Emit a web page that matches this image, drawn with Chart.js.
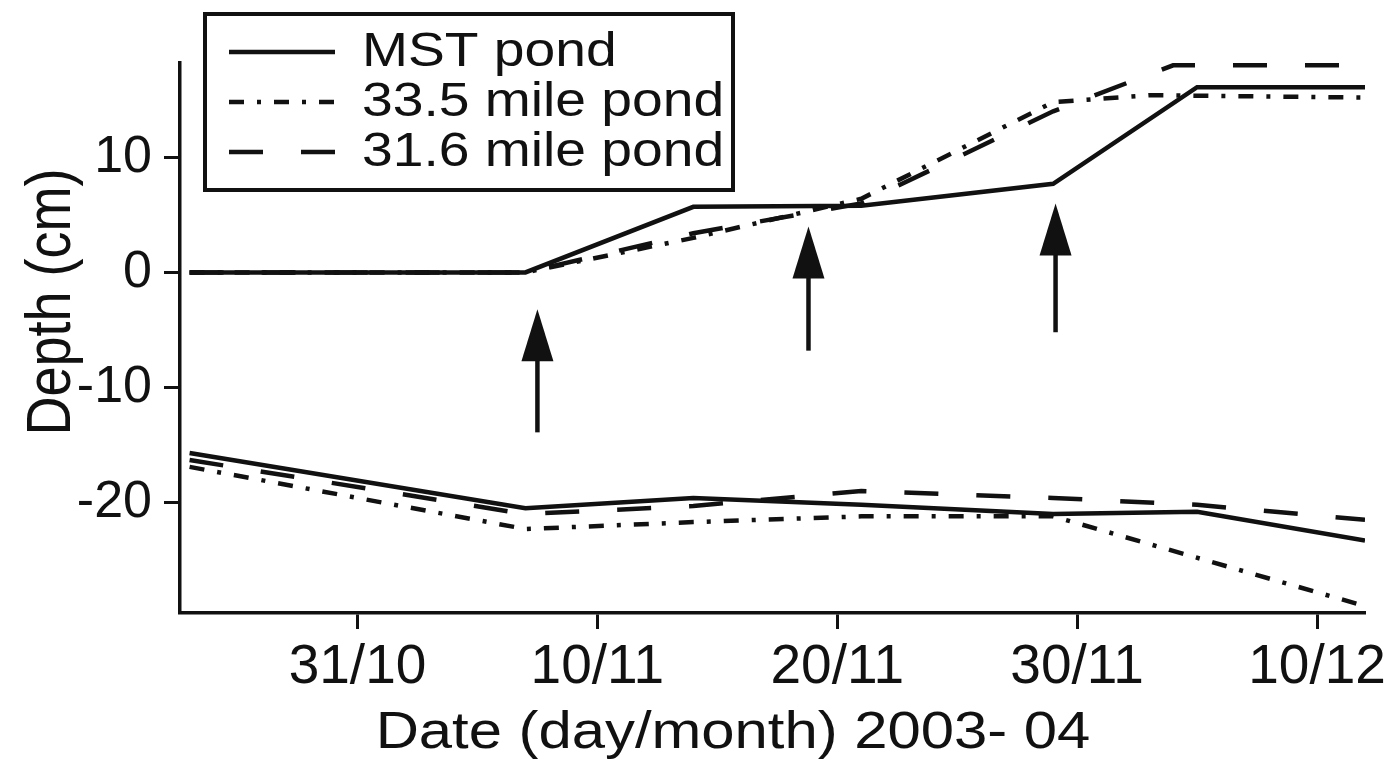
<!DOCTYPE html>
<html>
<head>
<meta charset="utf-8">
<title>Pond depth 2003-04</title>
<script src="https://cdn.jsdelivr.net/npm/chart.js@4.4.1/dist/chart.umd.min.js"></script>
<style>
  html, body { margin: 0; padding: 0; background: #fff; }
  #wrap { width: 1400px; height: 764px; position: relative; }
</style>
</head>
<body>
<div id="wrap"><canvas id="depth"></canvas></div>
<script>
// x values are days counted from 31/10/2003
var tickDays = [0, 10, 20, 30, 40];
var tickLabels = ['31/10', '10/11', '20/11', '30/11', '10/12'];
var depthTicks = [-20, -10, 0, 10];
var pondNames = ['MST pond', '33.5 mile pond', '31.6 mile pond'];

// pond surface (top) and bottom, cm
var mstDays = [-7, 7, 14, 21, 29, 35, 42];
var mstTop = [0, 0, 5.7, 5.8, 7.7, 16.1, 16.1];
var mstBottom = [-15.7, -20.5, -19.6, -20.2, -21.0, -20.8, -23.3];

var p335TopDays = [-7, 7, 14, 21, 29, 33, 42];
var p335Top = [0, 0, 3.0, 6.4, 14.8, 15.4, 15.2];
var p335BottomDays = [-7, 7, 14, 21, 29, 42];
var p335Bottom = [-16.9, -22.3, -21.7, -21.2, -21.2, -29.0];

var p316TopDays = [-7, 7, 14, 21, 29, 34, 42];
var p316Top = [0, 0, 3.4, 6.0, 14.0, 18.0, 18.0];
var p316BottomDays = [-7, 7, 14, 21, 29, 35, 42];
var p316Bottom = [-16.3, -21.0, -20.3, -19.0, -19.6, -20.2, -21.5];

// the three arrows: day, tail depth, tip depth
var arrowDays = [7.5, 18.8, 29.1];
var arrowFrom = [-13.9, -6.8, -5.2];
var arrowTo = [-3.2, 4.0, 6.0];

var ink = '#111';
var fontFam = '"Liberation Sans", Arial, Helvetica, sans-serif';
Chart.defaults.font.family = fontFam;

function pts(xs, ys) {
  return xs.map(function (x, i) { return { x: x, y: ys[i] }; });
}

var solid = [];
var dashDot = [15, 13, 4, 13];
var dashed = [34, 38];

function line(label, data, dash) {
  return {
    label: label,
    data: data,
    borderColor: ink,
    borderWidth: 4.5,
    borderDash: dash,
    pointRadius: 0,
    fill: false,
    tension: 0
  };
}

// stretched text, the figure is a bit wider than tall
function wideText(ctx, txt, x, y, size, align) {
  ctx.save();
  ctx.font = size + 'px ' + fontFam;
  ctx.fillStyle = ink;
  ctx.textAlign = align;
  ctx.textBaseline = 'alphabetic';
  ctx.translate(x, y);
  ctx.scale(1.15, 1);
  ctx.fillText(txt, 0, 0);
  ctx.restore();
}

var extras = {
  id: 'extras',
  afterDatasetsDraw: function (chart) {
    var ctx = chart.ctx, xs = chart.scales.x, ys = chart.scales.y;
    ctx.save();
    ctx.strokeStyle = ink;
    ctx.fillStyle = ink;
    ctx.lineWidth = 4.5;
    arrowDays.forEach(function (d, i) {
      var x = xs.getPixelForValue(d);
      var y0 = ys.getPixelForValue(arrowFrom[i]);
      var y1 = ys.getPixelForValue(arrowTo[i]);
      ctx.beginPath();
      ctx.moveTo(x, y0);
      ctx.lineTo(x, y1 + 40);
      ctx.stroke();
      ctx.beginPath();
      ctx.moveTo(x, y1);
      ctx.lineTo(x - 16, y1 + 52);
      ctx.lineTo(x + 16, y1 + 52);
      ctx.closePath();
      ctx.fill();
    });
    ctx.restore();
  },
  afterDraw: function (chart) {
    var ctx = chart.ctx;
    // legend box
    ctx.save();
    ctx.fillStyle = '#fff';
    ctx.fillRect(205, 14, 528, 176);
    ctx.strokeStyle = ink;
    ctx.lineWidth = 4;
    ctx.strokeRect(205, 14, 528, 176);
    for (var i = 0; i < 3; i++) {
      var ds = chart.data.datasets[i];
      var yy = 52 + i * 50;
      ctx.beginPath();
      ctx.setLineDash(ds.borderDash);
      ctx.lineWidth = 4.5;
      ctx.moveTo(229, yy);
      ctx.lineTo(335, yy);
      ctx.stroke();
      ctx.setLineDash([]);
      wideText(ctx, pondNames[i], 362, yy + 14, 48, 'left');
    }
    ctx.restore();

    // axis titles
    wideText(ctx, 'Date (day/month) 2003- 04', 733, 748, 52, 'center');
    ctx.save();
    ctx.font = '54px ' + fontFam;
    ctx.fillStyle = ink;
    ctx.textAlign = 'center';
    ctx.textBaseline = 'alphabetic';
    ctx.translate(70, 302);
    ctx.rotate(-Math.PI / 2);
    ctx.scale(1, 1.15);
    ctx.fillText('Depth (cm)', 0, 0);
    ctx.restore();
  }
};

var ctx = document.getElementById('depth').getContext('2d');
var depthChart = new Chart(ctx, {
  type: 'line',
  data: {
    datasets: [
      line(pondNames[0], pts(mstDays, mstTop), solid),
      line(pondNames[1], pts(p335TopDays, p335Top), dashDot),
      line(pondNames[2], pts(p316TopDays, p316Top), dashed),
      line(pondNames[0], pts(mstDays, mstBottom), solid),
      line(pondNames[1], pts(p335BottomDays, p335Bottom), dashDot),
      line(pondNames[2], pts(p316BottomDays, p316Bottom), dashed)
    ]
  },
  options: {
    responsive: true,
    maintainAspectRatio: false,
    animation: false,
    layout: { padding: { top: 63, right: 35, left: 0, bottom: 0 } },
    plugins: { legend: { display: false }, tooltip: { enabled: false } },
    scales: {
      x: {
        type: 'linear',
        min: -7.4,
        max: 42,
        afterBuildTicks: function (axis) {
          axis.ticks = tickDays.map(function (v) { return { value: v }; });
        },
        afterFit: function (axis) { axis.height = 151; },
        border: { display: true, color: ink, width: 3.5 },
        grid: { drawOnChartArea: false, drawTicks: true, tickLength: 16, tickWidth: 3, tickColor: ink },
        ticks: {
          color: ink,
          font: { size: 55 },
          padding: 6,
          maxRotation: 0,
          autoSkip: false,
          callback: function (v) {
            var i = tickDays.indexOf(v);
            return i < 0 ? '' : tickLabels[i];
          }
        }
      },
      y: {
        type: 'linear',
        min: -29.6,
        max: 18.2,
        afterBuildTicks: function (axis) {
          axis.ticks = depthTicks.map(function (v) { return { value: v }; });
        },
        afterFit: function (axis) { axis.width = 180; },
        border: { display: true, color: ink, width: 3.5 },
        grid: { drawOnChartArea: false, drawTicks: true, tickLength: 16, tickWidth: 3, tickColor: ink },
        ticks: {
          color: ink,
          font: { size: 52 },
          padding: 12,
          callback: function (v) { return String(v); }
        }
      }
    }
  },
  plugins: [extras]
});
</script>
</body>
</html>
